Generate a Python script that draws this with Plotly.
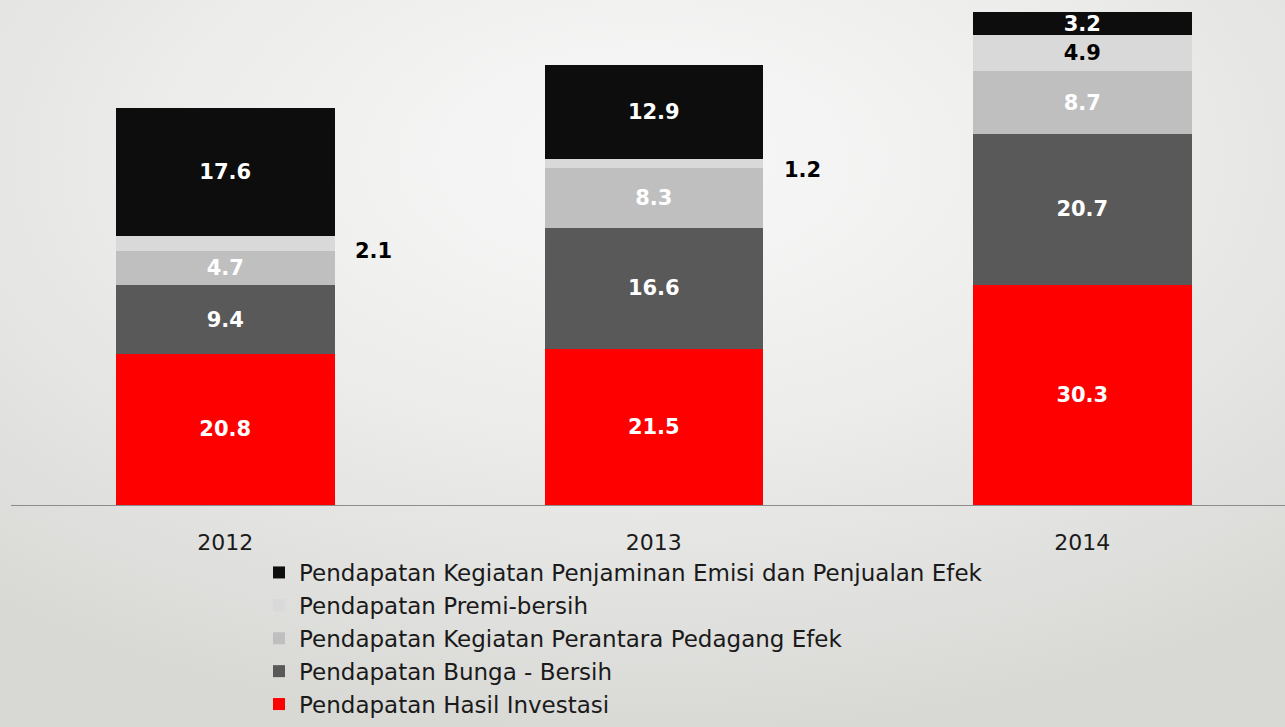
import base64
import plotly.graph_objects as go

years = ["2012", "2013", "2014"]
hasil_investasi = [20.8, 21.5, 30.3]
bunga_bersih = [9.4, 16.6, 20.7]
perantara = [4.7, 8.3, 8.7]
premi_bersih = [2.1, 1.2, 4.9]
penjaminan = [17.6, 12.9, 3.2]

series = [
    ("Pendapatan Hasil Investasi", hasil_investasi, "#ff0000", "white"),
    ("Pendapatan Bunga - Bersih", bunga_bersih, "#595959", "white"),
    ("Pendapatan Kegiatan Perantara Pedagang Efek", perantara, "#bfbfbf", "white"),
    ("Pendapatan Premi-bersih", premi_bersih, "#d9d9d9", "black"),
    ("Pendapatan Kegiatan Penjaminan Emisi dan Penjualan Efek", penjaminan, "#0d0d0d", "white"),
]

FONT = "DejaVu Sans"
fig = go.Figure()
cum = [0.0] * len(years)
annotations = []
n = len(series)
for i, (name, vals, color, tcolor) in enumerate(series):
    texts = []
    for j, v in enumerate(vals):
        if v < 2.5:
            texts.append("")
            annotations.append(dict(
                x=j, y=cum[j] + v / 2, xref="x", yref="y",
                text=f"<b>{v:.1f}</b>", showarrow=False,
                xanchor="left", xshift=128, yshift=-7,
                font=dict(family=FONT, size=21, color="black")))
        else:
            texts.append(f"<b>{v:.1f}</b>")
        cum[j] += v
    fig.add_trace(go.Bar(
        x=years, y=vals, name=name, marker=dict(color=color, line=dict(width=0)),
        text=texts, textposition="inside", insidetextanchor="middle",
        textfont=dict(family=FONT, size=21, color=tcolor), textangle=0,
        legendrank=n - i, constraintext="none",
    ))

svg = ('<svg xmlns="http://www.w3.org/2000/svg" width="1285" height="727">'
       '<defs><radialGradient id="g" cx="0.5" cy="0.22" r="0.8">'
       '<stop offset="0" stop-color="#f8f8f8"/><stop offset="0.45" stop-color="#ededec"/>'
       '<stop offset="1" stop-color="#d8d8d5"/></radialGradient></defs>'
       '<rect width="1285" height="727" fill="url(#g)"/></svg>')
src = "data:image/svg+xml;base64," + base64.b64encode(svg.encode()).decode()

PLOT_W, PLOT_H = 1274, 505
fig.update_layout(
    barmode="stack", bargap=0.49,
    width=1285, height=727,
    margin=dict(l=11, r=0, t=0, b=222),
    paper_bgcolor="#e2e2e0", plot_bgcolor="rgba(0,0,0,0)",
    images=[dict(source=src, xref="paper", yref="paper", x=-11/PLOT_W, y=1,
                 sizex=1285/PLOT_W, sizey=727/PLOT_H, xanchor="left", yanchor="top",
                 sizing="stretch", layer="below")],
    font=dict(family=FONT, color="#1a1a1a"),
    showlegend=True,
    legend=dict(orientation="v", x=(259 - 11) / PLOT_W, xanchor="left",
                y=(PLOT_H - 726) / PLOT_H, yanchor="bottom",
                traceorder="normal", tracegroupgap=0,
                font=dict(family=FONT, size=23, color="#1a1a1a"),
                bgcolor="rgba(0,0,0,0)", itemwidth=30),
    xaxis=dict(type="category", range=[-0.5, 2.473], showgrid=False,
               ticks="outside", ticklen=18, tickcolor="rgba(0,0,0,0)",
               showline=True, linecolor="#8c8c8c", linewidth=1,
               tickfont=dict(family=FONT, size=22, color="#1a1a1a")),
    yaxis=dict(range=[0, 69.46], visible=False, showgrid=False),
    annotations=annotations,
)
fig.write_html("out.html", config={"displayModeBar": False},
               post_script="document.body.style.margin='0px';")
